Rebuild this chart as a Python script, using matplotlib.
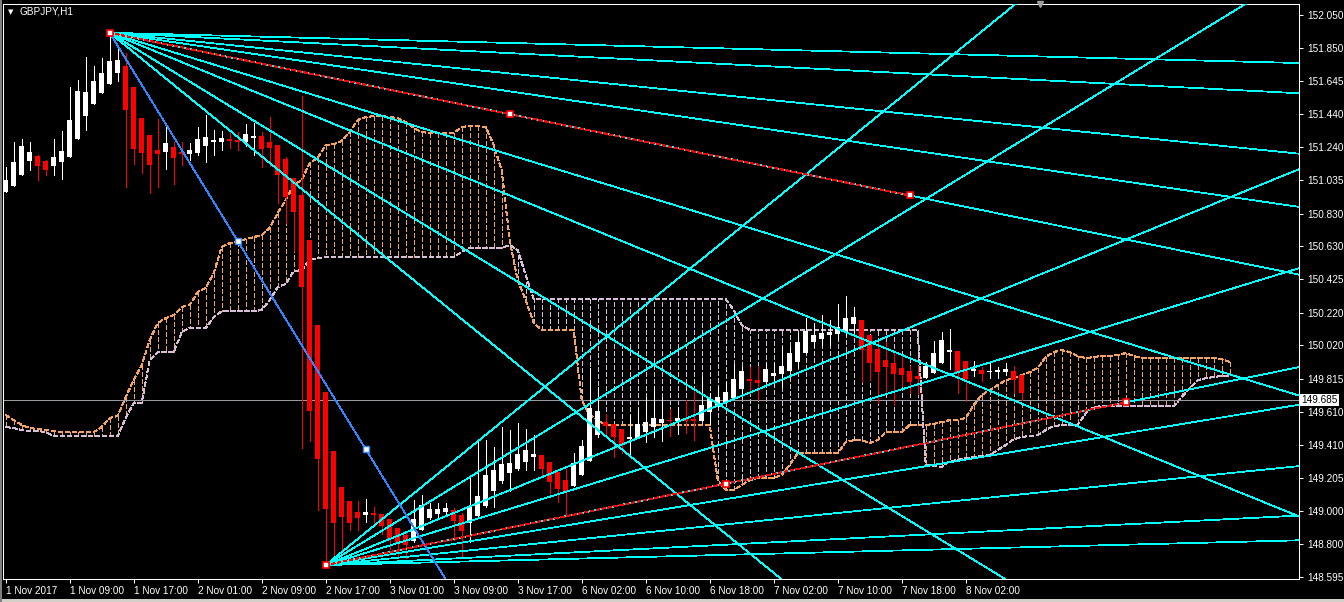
import matplotlib
matplotlib.use("Agg")
import matplotlib.pyplot as plt
import matplotlib.transforms as mtransforms

# ---------------- data ----------------
symbol_title = "GBPJPY,H1"

opens = [150.964, 151.001, 151.068, 151.154, 151.183, 151.153, 151.124, 151.146, 151.179, 151.290,
         151.429, 151.503, 151.571, 151.626, 151.694, 151.737, 151.607, 151.417, 151.312, 151.220,
         151.208, 151.239, 151.208, 151.196, 151.202, 151.245, 151.269, 151.269, 151.286, 151.282,
         151.269, 151.294, 151.306, 151.269, 151.251, 151.165, 151.046, 150.944, 150.667, 150.144,
         149.734, 149.372, 149.150, 149.064, 148.995, 148.976, 148.990, 148.982, 148.952, 148.896,
         148.853, 148.818, 148.884, 148.958, 148.982, 148.995, 149.007, 148.976, 148.925, 148.970,
         149.032, 149.126, 149.187, 149.236, 149.259, 149.304, 149.335, 149.345, 149.302, 149.242,
         149.191, 149.154, 149.222, 149.310, 149.468, 149.550, 149.536, 149.503, 149.442, 149.451,
         149.486, 149.519, 149.540, 149.562, 149.556, 149.564, 149.564, 149.554, 149.608, 149.642,
         149.671, 149.697, 149.749, 149.812, 149.808, 149.794, 149.831, 149.841, 149.863, 149.919,
         149.974, 150.042, 150.060, 150.083, 150.087, 150.103, 150.149, 150.175, 150.083, 149.995,
         149.929, 149.909, 149.878, 149.863, 149.831, 149.820, 149.851, 149.912, 149.980, 149.984,
         149.923, 149.860, 149.868, 149.854, 149.857, 149.857, 149.863, 149.837]
highs = [151.117, 151.268, 151.288, 151.268, 151.189, 151.159, 151.288, 151.337, 151.607, 151.650,
         151.792, 151.737, 151.786, 151.941, 151.855, 151.815, 151.607, 151.417, 151.312, 151.411,
         151.374, 151.269, 151.269, 151.263, 151.362, 151.435, 151.343, 151.337, 151.337, 151.331,
         151.380, 151.386, 151.331, 151.421, 151.251, 151.175, 151.046, 151.552, 150.667, 150.144,
         149.734, 149.372, 149.150, 149.064, 149.064, 149.073, 149.027, 148.982, 148.952, 148.896,
         148.874, 149.068, 149.099, 149.052, 149.048, 149.048, 149.017, 148.987, 149.222, 149.433,
         149.437, 149.396, 149.515, 149.499, 149.540, 149.505, 149.468, 149.345, 149.302, 149.242,
         149.257, 149.355, 149.437, 149.878, 149.765, 149.597, 149.536, 149.503, 149.591, 149.626,
         149.703, 149.769, 149.703, 149.626, 149.642, 149.683, 149.749, 149.826, 149.724, 149.761,
         149.796, 149.903, 149.884, 149.884, 149.892, 149.912, 149.912, 150.011, 150.011, 150.093,
         150.185, 150.155, 150.206, 150.175, 150.273, 150.323, 150.257, 150.175, 150.083, 150.042,
         150.042, 149.970, 149.966, 149.892, 149.892, 149.919, 150.046, 150.103, 150.118, 149.984,
         149.923, 149.923, 149.884, 149.909, 149.884, 149.912, 149.892, 149.837]
lows = [150.962, 151.001, 151.068, 151.099, 151.036, 151.066, 151.068, 151.042, 151.179, 151.290,
        151.345, 151.503, 151.571, 151.626, 151.644, 150.995, 151.134, 151.079, 150.956, 150.995,
        151.103, 151.011, 151.128, 151.159, 151.189, 151.146, 151.189, 151.220, 151.232, 151.220,
        151.245, 151.189, 151.117, 151.122, 150.892, 150.770, 150.601, 149.386, 149.433, 149.007,
        148.669, 148.720, 148.751, 148.884, 148.884, 148.935, 148.915, 148.859, 148.765, 148.720,
        148.710, 148.812, 148.884, 148.953, 148.956, 148.982, 148.823, 148.720, 148.812, 148.970,
        149.027, 149.027, 149.171, 149.126, 149.253, 149.253, 149.253, 149.212, 149.110, 149.058,
        148.976, 149.154, 149.222, 149.310, 149.458, 149.468, 149.331, 149.355, 149.335, 149.451,
        149.425, 149.458, 149.433, 149.464, 149.474, 149.478, 149.437, 149.554, 149.536, 149.640,
        149.671, 149.697, 149.724, 149.724, 149.683, 149.794, 149.806, 149.765, 149.863, 149.888,
        149.974, 150.011, 150.021, 150.021, 150.056, 150.083, 150.103, 149.796, 149.806, 149.663,
        149.724, 149.652, 149.769, 149.724, 149.720, 149.820, 149.851, 149.912, 149.872, 149.728,
        149.679, 149.831, 149.802, 149.817, 149.817, 149.837, 149.724, 149.683]
closes = [151.036, 151.146, 151.245, 151.208, 151.124, 151.097, 151.177, 151.214, 151.405, 151.583,
          151.577, 151.644, 151.694, 151.767, 151.773, 151.466, 151.226, 151.202, 151.128, 151.196,
          151.263, 151.171, 151.196, 151.220, 151.288, 151.300, 151.282, 151.294, 151.277, 151.269,
          151.318, 151.306, 151.224, 151.232, 151.066, 150.933, 150.841, 150.380, 149.617, 149.319,
          149.011, 148.925, 148.966, 148.925, 148.960, 148.995, 148.976, 148.909, 148.827, 148.802,
          148.792, 148.950, 149.036, 149.011, 149.015, 149.017, 148.941, 148.880, 149.024, 149.093,
          149.222, 149.253, 149.290, 149.294, 149.351, 149.376, 149.351, 149.257, 149.181, 149.134,
          149.119, 149.294, 149.400, 149.634, 149.616, 149.525, 149.454, 149.407, 149.458, 149.536,
          149.548, 149.573, 149.566, 149.554, 149.573, 149.552, 149.556, 149.652, 149.689, 149.700,
          149.732, 149.814, 149.863, 149.802, 149.790, 149.876, 149.847, 149.892, 149.970, 150.040,
          150.109, 150.083, 150.097, 150.103, 150.134, 150.185, 150.192, 149.991, 149.912, 149.857,
          149.888, 149.843, 149.837, 149.796, 149.810, 149.892, 149.974, 150.052, 149.991, 149.851,
          149.810, 149.872, 149.843, 149.863, 149.868, 149.872, 149.806, 149.728]

# Ichimoku cloud (already shifted forward), one value per bar slot
span_a = [149.591, 149.560, 149.530, 149.511, 149.505, 149.499, 149.493, 149.486, 149.486, 149.486,
          149.486, 149.486, 149.517, 149.573, 149.585, 149.702, 149.806, 149.898, 150.052, 150.157,
          150.187, 150.206, 150.255, 150.267, 150.347, 150.372, 150.464, 150.624, 150.648, 150.655,
          150.673, 150.685, 150.698, 150.741, 150.833, 150.913, 151.005, 151.036, 151.140, 151.171,
          151.251, 151.257, 151.276, 151.331, 151.405, 151.423, 151.429, 151.429, 151.423, 151.417,
          151.392, 151.355, 151.331, 151.325, 151.325, 151.325, 151.325, 151.362, 151.368, 151.368,
          151.362, 151.251, 151.097, 150.667, 150.421, 150.298, 150.157, 150.114, 150.114, 150.114,
          150.114, 150.114, 149.683, 149.591, 149.560, 149.530, 149.530, 149.530, 149.530, 149.530,
          149.530, 149.530, 149.530, 149.530, 149.530, 149.530, 149.530, 149.530, 149.530, 149.191,
          149.130, 149.130, 149.161, 149.191, 149.204, 149.204, 149.204, 149.222, 149.284, 149.357,
          149.357, 149.357, 149.357, 149.357, 149.357, 149.425, 149.437, 149.437, 149.419, 149.437,
          149.486, 149.486, 149.486, 149.530, 149.530, 149.530, 149.536, 149.548, 149.560, 149.560,
          149.573, 149.652, 149.714, 149.745, 149.775, 149.806, 149.818, 149.837, 149.855, 149.880,
          149.948, 149.978, 149.991, 149.978, 149.954, 149.941, 149.948, 149.954, 149.954, 149.960,
          149.972, 149.954, 149.941, 149.941, 149.941, 149.941, 149.941, 149.941, 149.941, 149.941,
          149.941, 149.941, 149.935, 149.917]
span_b = [149.517, 149.511, 149.499, 149.493, 149.493, 149.486, 149.462, 149.462, 149.462, 149.462,
          149.462, 149.462, 149.462, 149.462, 149.462, 149.573, 149.665, 149.665, 149.929, 149.978,
          149.978, 149.978, 150.101, 150.126, 150.126, 150.126, 150.193, 150.230, 150.230, 150.230,
          150.230, 150.230, 150.236, 150.298, 150.378, 150.396, 150.476, 150.482, 150.544, 150.556,
          150.562, 150.562, 150.562, 150.562, 150.562, 150.562, 150.562, 150.562, 150.562, 150.562,
          150.562, 150.562, 150.562, 150.562, 150.562, 150.562, 150.562, 150.593, 150.618, 150.618,
          150.618, 150.618, 150.618, 150.636, 150.605, 150.452, 150.304, 150.304, 150.304, 150.304,
          150.304, 150.304, 150.304, 150.304, 150.304, 150.304, 150.304, 150.304, 150.304, 150.304,
          150.304, 150.304, 150.304, 150.304, 150.304, 150.304, 150.304, 150.304, 150.304, 150.304,
          150.304, 150.236, 150.144, 150.114, 150.114, 150.114, 150.114, 150.114, 150.114, 150.114,
          150.114, 150.114, 150.114, 150.114, 150.114, 150.114, 150.114, 150.114, 150.114, 150.114,
          150.114, 150.114, 150.114, 150.114, 150.114, 149.284, 149.277, 149.271, 149.308, 149.314,
          149.327, 149.333, 149.339, 149.345, 149.376, 149.407, 149.443, 149.456, 149.462, 149.468,
          149.499, 149.523, 149.530, 149.530, 149.530, 149.603, 149.640, 149.646, 149.646, 149.646,
          149.646, 149.646, 149.646, 149.646, 149.646, 149.646, 149.646, 149.702, 149.757, 149.806,
          149.818, 149.825, 149.831, 149.831]

time_labels = ["1 Nov 2017", "1 Nov 09:00", "1 Nov 17:00", "2 Nov 01:00", "2 Nov 09:00",
               "2 Nov 17:00", "3 Nov 01:00", "3 Nov 09:00", "3 Nov 17:00", "6 Nov 02:00",
               "6 Nov 10:00", "6 Nov 18:00", "7 Nov 02:00", "7 Nov 10:00", "7 Nov 18:00",
               "8 Nov 02:00"]
label_every = 8
price_ticks = [152.050, 151.850, 151.645, 151.440, 151.240, 151.035, 150.830, 150.630, 150.425,
               150.220, 150.020, 149.815, 149.610, 149.410, 149.205, 149.000, 148.800, 148.595]
bid_price = 149.685

# Gann fans: anchor bar, anchor price, ratios of the 1x1 speed (price per bar)
gann_scale = 0.01
top_fan_bar, top_fan_price = 13, 151.941
top_fan_ratios = [0.125, 0.25, 0.5, 0.72, 1, 1.5, 2, 3, 4]
bottom_fan_bar, bottom_fan_price = 40, 148.669
bottom_fan_ratios = [0.125, 0.25, 0.5, 0.81, 1, 1.5, 2, 3, 4]
blue_line_ratio = 8
blue_marker_bars = [29, 45]
red_line_length = 100  # bars

# ---------------- style ----------------
plt.rcParams['font.family'] = ['Liberation Sans', 'DejaVu Sans']
plt.rcParams['lines.scale_dashes'] = False
W, H = 1344, 602
LW = 0.55  # points, renders as a single pixel line

CYAN = '#00ffff'
SANDY = '#f4a460'
THISTLE = '#d8bfd8'
BULL = '#ffffff'
BEAR = '#ff0000'

fig = plt.figure(figsize=(W / 100, H / 100), dpi=100, facecolor='black')
left, right, top, bottom = 3.3, 1299.3, 4.0, 578.7
ax = fig.add_axes([left / W, 1 - bottom / H, (right - left) / W, (bottom - top) / H])
ax.set_facecolor('black')

xmin, xmax = -0.3, 161.7
ymin, ymax = 148.585, 152.118
ax.set_xlim(xmin, xmax)
ax.set_ylim(ymin, ymax)

# ---------------- cloud ----------------
n_cloud = len(span_a)
xs_cloud = list(range(n_cloud))
for j in range(n_cloud):
    a, b = span_a[j], span_b[j]
    col = SANDY if a >= b else THISTLE
    ax.plot([j, j], [a, b], color=col, lw=LW, dashes=(3.4, 1.7), zorder=1, antialiased=False)
ax.plot(xs_cloud, span_a, color=SANDY, lw=LW, dashes=(3.4, 1.7), zorder=1.1, antialiased=False)
ax.plot(xs_cloud, span_b, color=THISTLE, lw=LW, dashes=(3.4, 1.7), zorder=1.1, antialiased=False)

# ---------------- bid line ----------------
ax.axhline(bid_price, color='#9a9aa2', lw=LW, zorder=1.5, antialiased=False)

# ---------------- candles ----------------
body_w = 0.62
min_h = 0.0062
for i in range(len(opens)):
    o, h, l, c = opens[i], highs[i], lows[i], closes[i]
    col = BULL if c >= o else BEAR
    ax.vlines(i, l, h, color=col, lw=LW, zorder=3, antialiased=False)
    lo = min(o, c)
    hgt = max(abs(c - o), min_h)
    ax.bar(i, hgt, bottom=lo, width=body_w, color=col, edgecolor=col, lw=0, zorder=3.1,
           antialiased=False)

# ---------------- Gann fans ----------------
def fan(x0, y0, ratios, sign, color=CYAN):
    for r in ratios:
        y1 = y0 + sign * r * gann_scale * (xmax - x0)
        ax.plot([x0, xmax], [y0, y1], color=color, lw=LW, zorder=4, antialiased=False)

fan(top_fan_bar, top_fan_price, top_fan_ratios, -1)
fan(bottom_fan_bar, bottom_fan_price, bottom_fan_ratios, +1)

# blue line from the top anchor
by1 = top_fan_price - blue_line_ratio * gann_scale * (xmax - top_fan_bar)
ax.plot([top_fan_bar, xmax], [top_fan_price, by1], color='#2f86ff', lw=LW, zorder=4.2,
        antialiased=False)
for bb in blue_marker_bars:
    yy = top_fan_price - blue_line_ratio * gann_scale * (bb - top_fan_bar)
    ax.plot(bb, yy, marker='s', ms=4.3, mfc='white', mec='#2f86ff', mew=1.0, zorder=6)

# red dashed 1x1 segments (drawn over the cyan 1x1 fan line)
for (x0, y0, sgn) in [(top_fan_bar, top_fan_price, -1), (bottom_fan_bar, bottom_fan_price, +1)]:
    x1 = x0 + red_line_length
    y1 = y0 + sgn * gann_scale * red_line_length
    ax.plot([x0, x1], [y0, y1], color=BEAR, lw=0.75, dashes=(2.4, 1.8), zorder=5,
            antialiased=False)
    xm, ym = (x0 + x1) / 2, (y0 + y1) / 2
    for (px, py) in [(x0, y0), (xm, ym), (x1, y1)]:
        ax.plot(px, py, marker='s', ms=4.3, mfc='white', mec=BEAR, mew=1.2, zorder=6)

# ---------------- axes / ticks ----------------
for sp in ax.spines.values():
    sp.set_color('white')
    sp.set_linewidth(0.75)

xt = [k * label_every for k in range(len(time_labels))]
ax.set_xticks(xt)
ax.set_xticklabels(time_labels)
for t in ax.get_xticklabels():
    t.set_horizontalalignment('left')
ax.tick_params(axis='x', colors='white', direction='out', length=3, width=0.75,
               labelsize=7.2, pad=2)

ax.yaxis.tick_right()
ax.set_yticks(price_ticks)
ax.set_yticklabels([f"{p:.3f}" for p in price_ticks])
ax.tick_params(axis='y', colors='white', direction='out', length=3, width=0.75,
               labelsize=7.2, pad=3)

# bid price label box
trans = mtransforms.blended_transform_factory(ax.transAxes, ax.transData)
ax.text(1.0017, bid_price, f"{bid_price:.3f}", transform=trans, ha='left', va='center',
        fontsize=7.2, color='black', zorder=10, clip_on=False,
        bbox=dict(boxstyle='square,pad=0.12', fc='white', ec='white', lw=0))

# title
fig.text(8 / W, 1 - 12 / H, '\u25BC', color='white', fontsize=5, va='center', ha='left',
         family='DejaVu Sans')
fig.text(20 / W, 1 - 12 / H, symbol_title, color='white', fontsize=7.2, va='center', ha='left')

# chart shift marker
ax.plot(129.3, ymax, marker='v', ms=5, color='#a0a0a0', clip_on=False, zorder=10)

# window frame bits
fig.patches.append(plt.Rectangle((0, 0), 1, 3 / H, transform=fig.transFigure,
                                 facecolor='#d4d0c8', edgecolor='none'))
fig.patches.append(plt.Rectangle((0, 0), 2 / W, 1, transform=fig.transFigure,
                                 facecolor='#808080', edgecolor='none'))

fig.savefig('out.png', dpi=100, facecolor='black')
